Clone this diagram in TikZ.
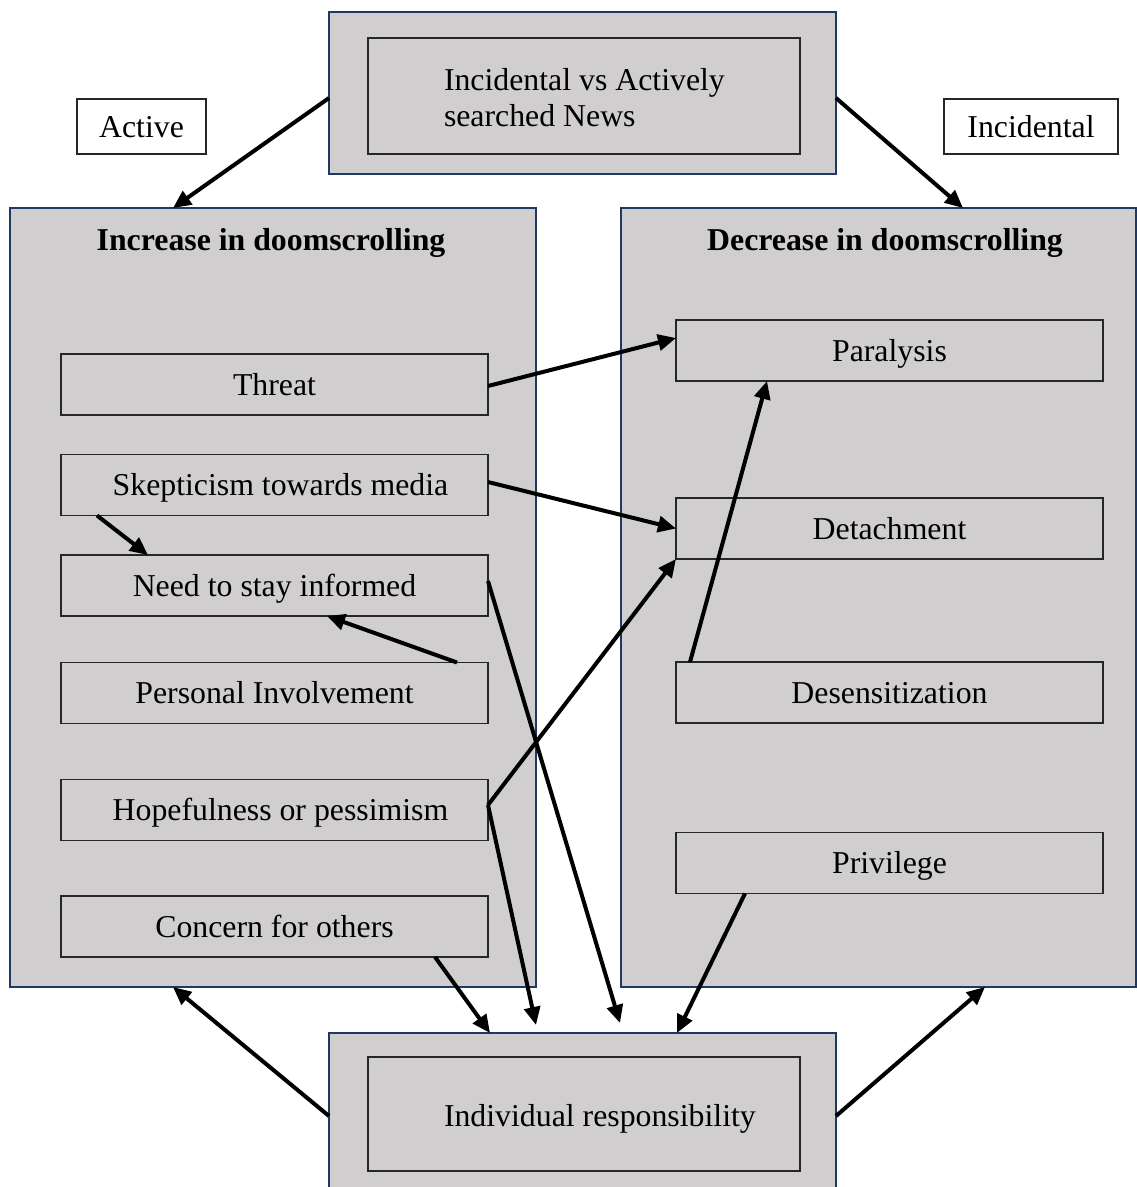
\documentclass[tikz,border=0pt]{standalone}
\usepackage{fontspec}
\setmainfont{Liberation Serif}
\usetikzlibrary{arrows.meta}
\definecolor{boxgray}{RGB}{208,206,206}
\definecolor{navy}{RGB}{31,56,100}

\begin{document}
\begin{tikzpicture}[x=1pt, y=-1pt,
  every node/.style={font=\fontsize{31.8}{36}\selectfont, inner sep=0pt, outer sep=0pt},
  outerbox/.style={draw=navy, line width=2.5pt, fill=boxgray},
  innerbox/.style={draw=black!85, line width=1.3pt, fill=boxgray, minimum width=427pt, minimum height=61pt, text height=21pt, text depth=0pt},
  tagbox/.style={draw=black!85, line width=1.3pt, fill=white, minimum height=55pt, text height=21pt, text depth=0pt},
  title/.style={font=\fontsize{31.8}{36}\selectfont\bfseries, text height=21pt, text depth=0pt},
  link/.style={line width=4pt, -{Triangle[length=18pt, width=16pt]}}]
\useasboundingbox (0, 0) rectangle (1137, 1187);
%Boxes
\node[outerbox, minimum width=507pt, minimum height=162pt] (news) at (582.5, 93) {};
\node[innerbox, minimum width=432pt, minimum height=116pt] (newsIn) at (584, 96) {};
\node[tagbox, minimum width=129pt] (active) at (141.5, 126.5) {Active};
\node[tagbox, minimum width=174pt] (incidental) at (1031, 126.5) {Incidental};
\node[outerbox, minimum width=526pt, minimum height=779pt] (incr) at (273, 597.5) {};
\node[outerbox, minimum width=515pt, minimum height=779pt] (decr) at (878.5, 597.5) {};
\node[outerbox, minimum width=507pt, minimum height=163pt] (resp) at (582.5, 1114.5) {};
\node[innerbox, minimum width=432pt, minimum height=114pt] (respIn) at (584, 1114) {};
\node[innerbox] (threat) at (274.5, 384.5) {Threat};
\node[innerbox] (skept) at (274.5, 485) {\hspace{12pt}Skepticism towards media};
\node[innerbox] (informed) at (274.5, 585.5) {Need to stay informed\hspace{8pt}};
\node[innerbox] (involve) at (274.5, 693) {Personal Involvement\hspace{12pt}};
\node[innerbox] (hope) at (274.5, 810) {\hspace{12pt}Hopefulness or pessimism};
\node[innerbox] (concern) at (274.5, 926.5) {Concern for others\hspace{6pt}};
\node[innerbox] (paralysis) at (889.5, 350.5) {Paralysis};
\node[innerbox] (detach) at (889.5, 528.5) {Detachment\hspace{8pt}};
\node[innerbox] (desens) at (889.5, 692.5) {Desensitization};
\node[innerbox] (privilege) at (889.5, 863) {Privilege\hspace{16pt}};
%Text
\node[anchor=west, align=left] (newsText) at (444, 98) {Incidental vs Actively\\searched News};
\node[anchor=west, text height=21pt, text depth=0pt] (respText) at (444, 1116) {Individual responsibility};
\node[title] (incrTitle) at (271, 240) {Increase in doomscrolling};
\node[title] (decrTitle) at (885, 240) {Decrease in doomscrolling};
%Arrows
\draw[link] ([yshift=-5pt]news.west) -- ([xshift=-100pt]incr.north);
\draw[link] ([yshift=-5pt]news.east) -- ([xshift=84.5pt]decr.north);
\draw[link] ([yshift=-1.5pt]threat.east) -- ([yshift=12.5pt]paralysis.west);
\draw[link] ([yshift=3pt]skept.east) -- (detach.west);
\draw[link] ([xshift=-177.5pt]skept.south) -- ([xshift=-126.5pt]informed.north);
\draw[link] ([xshift=182.5pt]involve.north) -- ([xshift=52.5pt]informed.south);
\draw[link] ([yshift=4.5pt]informed.east) -- ([xshift=37.5pt, yshift=10pt]resp.north);
\draw[link] ([yshift=5pt]hope.east) -- (detach.south west);
\draw[link] ([yshift=5pt]hope.east) -- ([xshift=-46.5pt, yshift=8pt]resp.north);
\draw[link] ([xshift=160.5pt]concern.south) -- ([xshift=-92.5pt]resp.north);
\draw[link] ([xshift=-144.5pt]privilege.south) -- ([xshift=94.5pt]resp.north);
\draw[link] ([xshift=-199.5pt]desens.north) -- ([xshift=-122.5pt]paralysis.south);
\draw[link] ([yshift=-1.5pt]resp.west) -- ([xshift=-100pt]incr.south);
\draw[link] ([yshift=-1.5pt]resp.east) -- ([xshift=106.5pt]decr.south);
\end{tikzpicture}
\end{document}
